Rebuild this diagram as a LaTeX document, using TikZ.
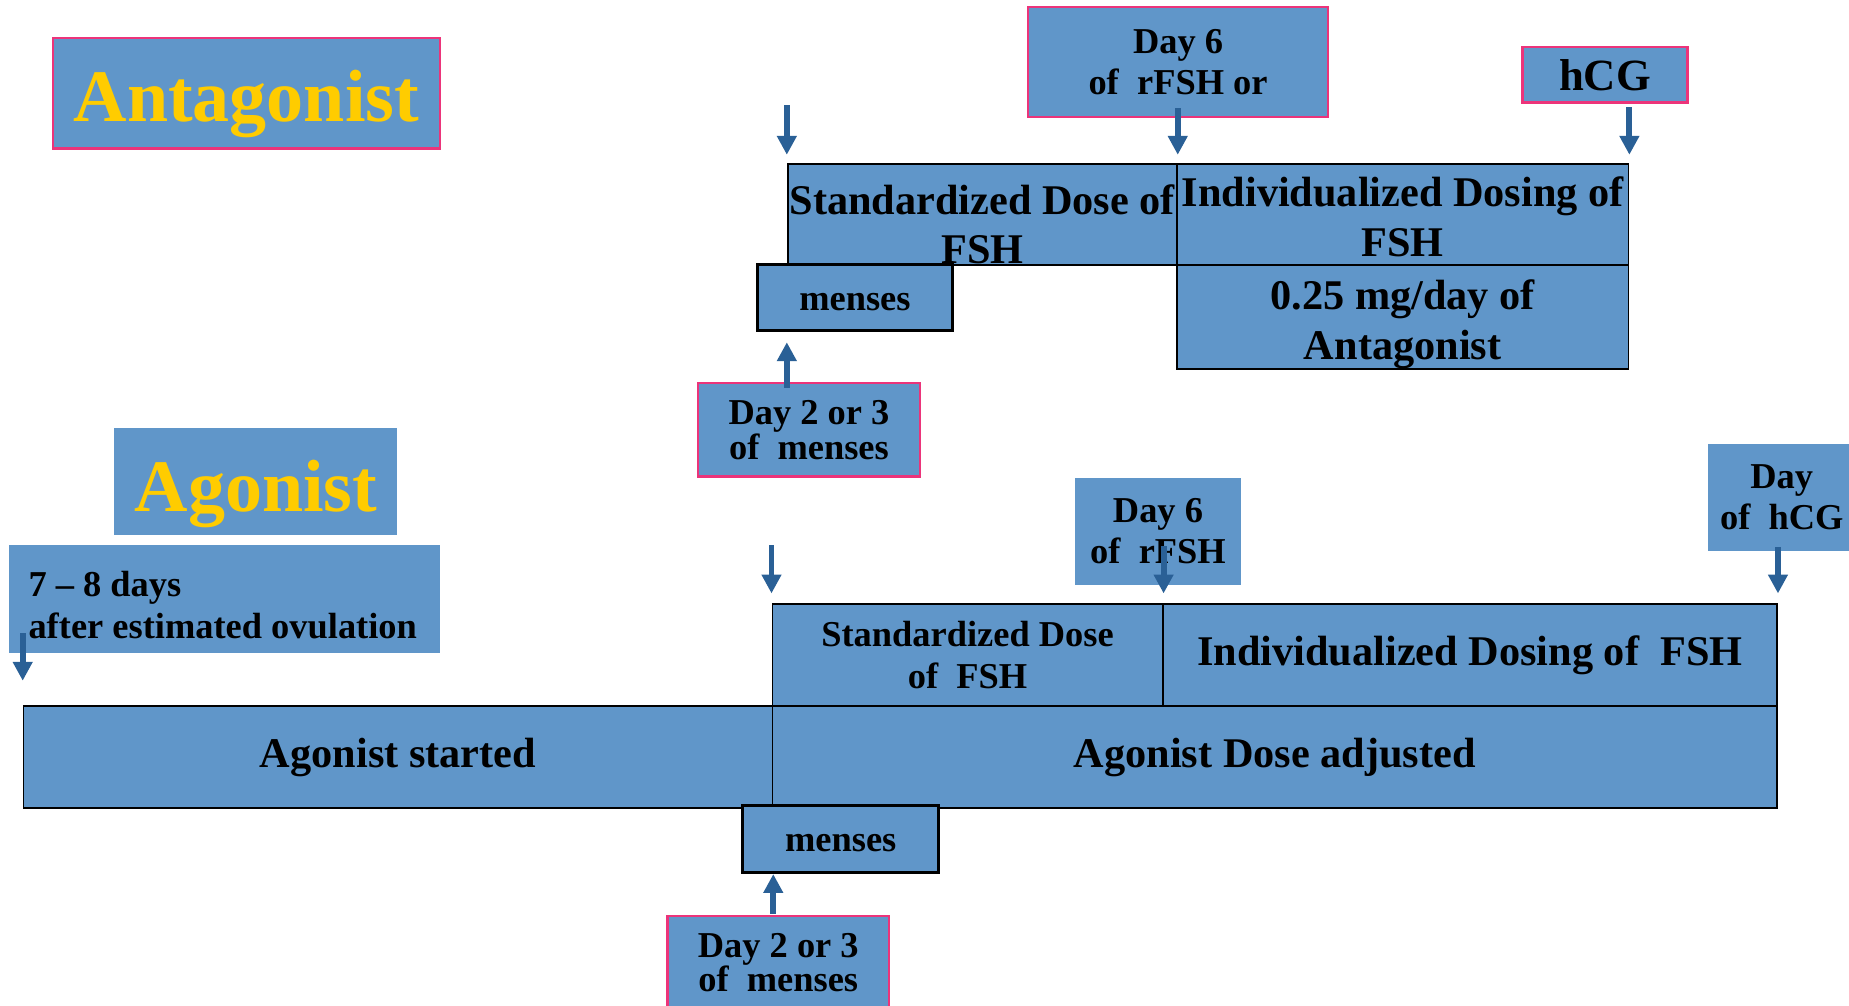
\documentclass[tikz,border=0pt]{standalone}
\usepackage{fontspec}
\setmainfont{Liberation Serif}
\usetikzlibrary{arrows.meta,calc}
\definecolor{boxblue}{RGB}{96,150,201}
\definecolor{rimpink}{RGB}{236,52,122}
\definecolor{arrowblue}{RGB}{42,96,150}
\definecolor{titleyellow}{RGB}{255,204,0}

\begin{document}
\begin{tikzpicture}[x=1bp,y=-1bp,
  base/.style={fill=boxblue, inner sep=0pt, align=center,
    font=\bfseries\fontsize{31}{35}\selectfont},
  plain/.style={base, draw=none},
  tagged/.style={base, draw=rimpink, line width=2bp},
  bar/.style={base, draw=black, line width=1.5bp,
    font=\bfseries\fontsize{36}{42}\selectfont},
  mensesbox/.style={base, draw=black, line width=2.5bp, text height=22bp, text depth=0bp},
  title/.style={base, text=titleyellow, font=\bfseries\fontsize{63}{70}\selectfont,
    text height=52bp, text depth=4bp},
  bigtext/.style={inner sep=0pt, align=center, font=\bfseries\fontsize{36}{42}\selectfont},
  pointer/.style={draw=arrowblue, line width=5bp, -{Triangle[width=16bp,length=16bp]}},
  sz/.style 2 args={minimum width=#1bp, minimum height=#2bp},
]
\useasboundingbox (0,0) rectangle (1568,853);

% ---------------- Antagonist protocol ----------------
\node[tagged, title, sz={328}{94}] (antT) at (209,79) {Antagonist};
\node[tagged, sz={254}{93}] (day6A) at (999,52.5) {Day 6\\of\ \ rFSH or};
\node[tagged, sz={140}{47}, font=\bfseries\fontsize{38}{42}\selectfont] (hcgA) at (1361,63.5) {hCG};

\node[bar, sz={330}{86}] (sdA) at (833,182) {};
\node[bigtext] (sdAtext) at (833,190) {Standardized Dose of\\FSH};
\node[bar, sz={383}{86}] (indA) at (1189.5,182) {};
\node[bigtext] (indAtext) at (1189.5,184) {Individualized Dosing of\\FSH};
\node[bar, sz={383}{88}] (antDoseA) at (1189.5,269) {};
\node[bigtext] (antDoseAtext) at (1189.5,275) {0.25 mg/day of\\Antagonist};
\node[mensesbox, sz={166}{56}] (mensesA) at (725,252) {menses};
\node[tagged, sz={188}{79}, font=\bfseries\fontsize{31}{30}\selectfont] (d23A) at (686,364.5) {Day 2 or 3\\of\ \ menses};

\draw[pointer] ($(sdA.north west)+(0,-49)$) -- ($(sdA.north west)+(0,-7)$);
\draw[pointer] ($(sdA.north east |- day6A.south)+(0,-8)$) -- ($(sdA.north east)+(0,-7)$);
\draw[pointer] ($(indA.north east |- hcgA.south)+(0,3)$) -- ($(indA.north east)+(0,-7)$);
\draw[pointer] ($(sdA.west |- d23A.north)+(0,5)$) -- ($(sdA.west |- mensesA.south)+(0,9)$);

% ---------------- Agonist protocol ----------------
\node[plain, title, sz={240}{91}, text height=54bp] (agoT) at (217,408.5) {Agonist};
\node[plain, sz={365}{92}] (daysB) at (190.5,508) {};
\node[anchor=west, inner sep=0pt, align=left, font=\bfseries\fontsize{31}{36}\selectfont]
  (daysBtext) at (24,513) {7 -- 8 days\\after estimated ovulation};
\node[plain, sz={140}{91}] (d6B) at (982,450.5) {Day 6\\of\ \ rFSH};
\node[plain, sz={126}{91}] (hcgB) at (1511,422) {Day\\of\ \ hCG};

\node[bar, sz={331}{87}, font=\bfseries\fontsize{31}{35}\selectfont] (sdB) at (820.5,555.5) {Standardized Dose\\of\ \ FSH};
\node[bar, sz={521}{87}] (indB) at (1246.5,555.5) {Individualized Dosing of\ \ FSH};
\node[bar, sz={635}{86}] (startB) at (337.5,642) {Agonist started};
\node[bar, sz={852}{86}] (adjB) at (1081,642) {Agonist Dose adjusted};
\node[mensesbox, sz={166}{57}] (mensesB) at (713,711.5) {menses};
\node[tagged, sz={188}{79}, font=\bfseries\fontsize{31}{29}\selectfont] (d23B) at (660,816.5) {Day 2 or 3\\of\ \ menses};

\draw[pointer] ($(startB.north west |- daysB.south)+(0,-17)$) -- ($(startB.north west)+(0,-21)$);
\draw[pointer] ($(sdB.north west)+(0,-49)$) -- ($(sdB.north west)+(0,-8)$);
\draw[pointer] ($(sdB.north east |- d6B.south)+(0,-33)$) -- ($(sdB.north east)+(0,-8)$);
\draw[pointer] ($(indB.north east |- hcgB.south)+(0,-4)$) -- ($(indB.north east)+(0,-8)$);
\draw[pointer] ($(startB.south east |- d23B.north)+(0,-1)$) -- (startB.south east |- mensesB.south);
\end{tikzpicture}
\end{document}
